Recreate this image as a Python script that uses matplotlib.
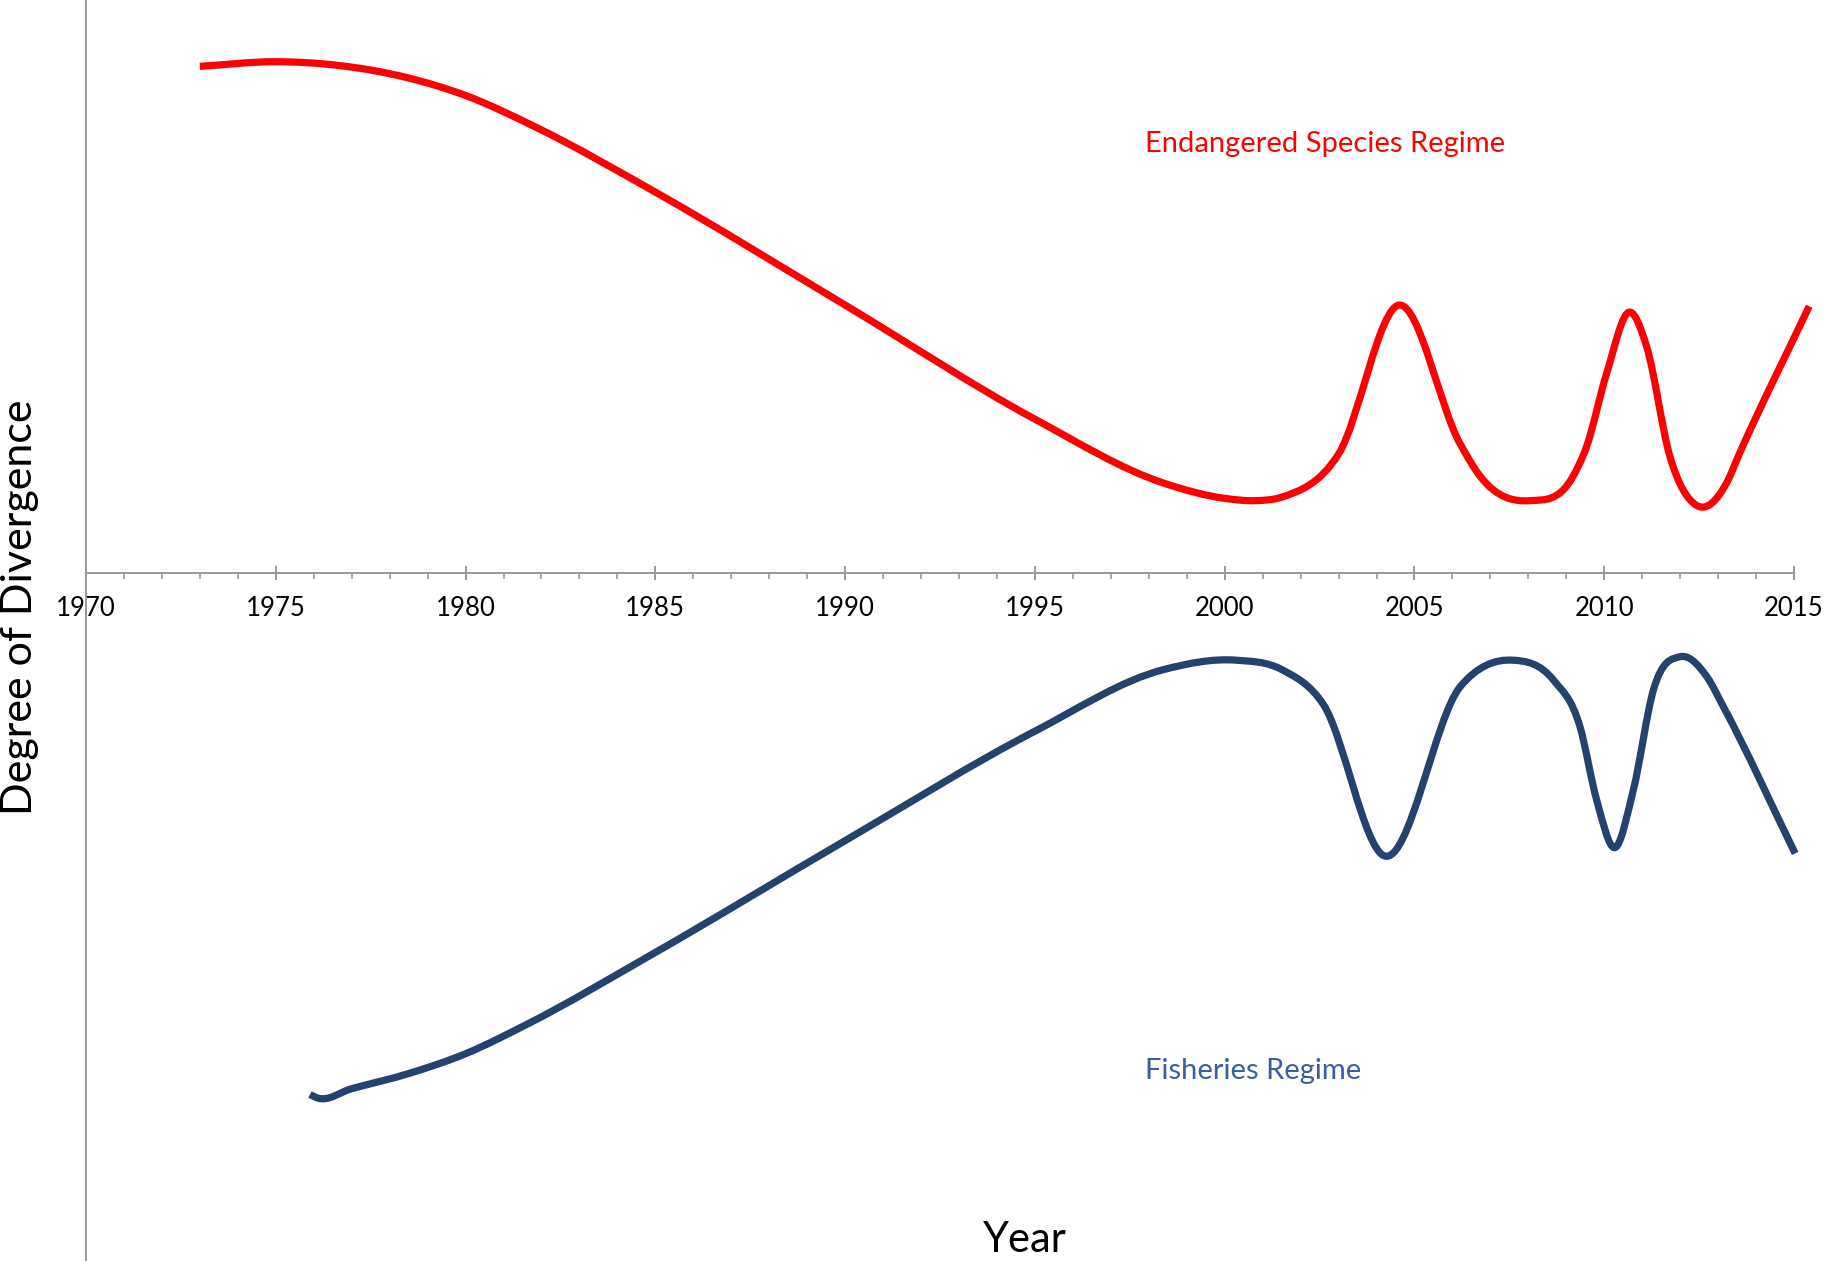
import matplotlib
matplotlib.use("Agg")
import matplotlib.pyplot as plt
from matplotlib.path import Path
from matplotlib.patches import PathPatch
import numpy as np

plt.rcParams['font.family'] = ['Lato', 'DejaVu Sans']

# ---- data (year, degree of divergence; arbitrary units) ----
endangered_years = [1973.0, 1975.0, 1976.6, 1978.5, 1980.0, 1981.9, 1985.0, 1990.0,
                    1995.0, 1998.4, 2000.0, 2000.8, 2001.5, 2003.0, 2004.6,
                    2006.2, 2006.73, 2008.04, 2009.18, 2009.53, 2010.06,
                    2010.68, 2011.12, 2011.73, 2012.43, 2013.22, 2013.57, 2015.4]
endangered_vals = [43.5, 43.9, 43.6, 42.5, 41.0, 38.2, 32.7, 23.0,
                   13.2, 7.7, 6.4, 6.2, 6.5, 10.2, 23.0,
                   11.1, 8.3, 6.2, 8.3, 10.8, 17.1,
                   22.4, 19.4, 10.0, 5.8, 7.7, 10.3, 22.9]

fisheries_years = [1975.9, 1976.1, 1977.0, 1978.5, 1980.0, 1981.6, 1985.0, 1990.0,
                   1995.0, 1998.4, 2000.3, 2001.5, 2002.6, 2004.2,
                   2006.2, 2007.6, 2008.66, 2009.36, 2009.8, 2010.28,
                   2010.77, 2011.3, 2012.0, 2012.7, 2013.14, 2015.03]
fisheries_vals = [-44.8, -45.1, -44.3, -43.0, -41.3, -38.8, -32.6, -23.0,
                  -13.6, -8.3, -7.5, -8.3, -11.3, -24.3,
                  -9.8, -7.5, -9.2, -13.2, -19.5, -23.6,
                  -18.6, -10.0, -7.2, -8.9, -11.5, -24.1]

major_ticks = list(range(1970, 2016, 5))
minor_ticks = list(range(1970, 2016, 1))

W, H = 1826, 1261
fig = plt.figure(figsize=(W / 100, H / 100), dpi=100)
ax = fig.add_axes([86 / W, 0, 1727 / W, 1])
ax.set_xlim(1970, 2015.5)
ax.set_ylim(-59.1, 49.2)


def smooth_path(xs, ys):
    """Local cubic Hermite curve (3-point tangents) rendered as Bezier segments."""
    x = np.asarray(xs, float)
    y = np.asarray(ys, float)
    n = len(x)
    h = np.diff(x)
    d = np.diff(y) / h
    m = np.zeros(n)
    m[0] = d[0]
    m[-1] = d[-1]
    for k in range(1, n - 1):
        m[k] = (h[k - 1] * d[k] + h[k] * d[k - 1]) / (h[k - 1] + h[k])
    verts = [(x[0], y[0])]
    codes = [Path.MOVETO]
    for i in range(n - 1):
        hh = h[i]
        verts += [(x[i] + hh / 3, y[i] + m[i] * hh / 3),
                  (x[i + 1] - hh / 3, y[i + 1] - m[i + 1] * hh / 3),
                  (x[i + 1], y[i + 1])]
        codes += [Path.CURVE4] * 3
    return Path(verts, codes)


ax.add_patch(PathPatch(smooth_path(endangered_years, endangered_vals), fill=False,
                       edgecolor='#FF0000', lw=5.2, capstyle='butt', joinstyle='round',
                       clip_on=False, zorder=3))
ax.add_patch(PathPatch(smooth_path(fisheries_years, fisheries_vals), fill=False,
                       edgecolor='#23426E', lw=5.2, capstyle='butt', joinstyle='round',
                       clip_on=False, zorder=3))

for s in ['top', 'right']:
    ax.spines[s].set_visible(False)
ax.spines['left'].set_color('#999999')
ax.spines['left'].set_linewidth(1.4)
ax.spines['bottom'].set_position(('data', 0))
ax.spines['bottom'].set_bounds(1970, 2015)
ax.spines['bottom'].set_color('#999999')
ax.spines['bottom'].set_linewidth(1.4)

ax.set_yticks([])
ax.set_xticks(major_ticks)
ax.set_xticks(minor_ticks, minor=True)
ax.set_xticklabels([str(t) for t in major_ticks])
ax.tick_params(axis='x', which='major', direction='inout', length=10, width=1.4,
               color='#999999', labelsize=18.5, pad=12, labelcolor='black')
ax.tick_params(axis='x', which='minor', direction='out', length=4.3, width=1.2,
               color='#999999')

fig.text(20 / W, 1 - 607 / H, 'Degree of Divergence', rotation=90, ha='center',
         va='center', fontsize=31, color='black')
fig.text(1025 / W, 1 - 1252 / H, 'Year', ha='center', va='baseline', fontsize=30,
         color='black')
fig.text(1145 / W, 1 - 152 / H, 'Endangered Species Regime', ha='left', va='baseline',
         fontsize=21, color='#FF0000')
fig.text(1145 / W, 1 - 1079 / H, 'Fisheries Regime', ha='left', va='baseline',
         fontsize=21, color='#3A5F9A')

fig.savefig('out.png', dpi=100, facecolor='white')
